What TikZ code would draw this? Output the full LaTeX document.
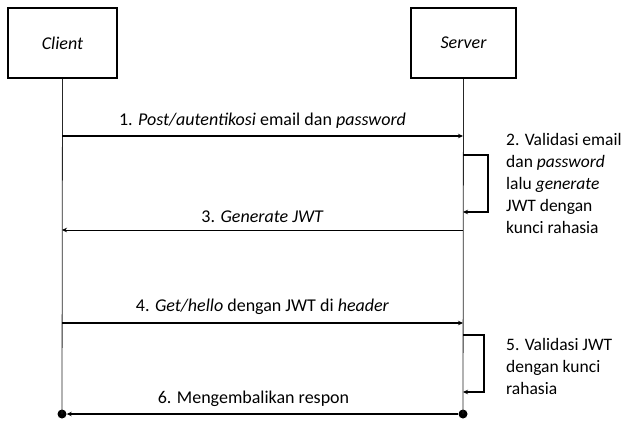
\documentclass[tikz,border=0pt]{standalone}
\usepackage{fontspec}
\setmainfont{Carlito}
\usetikzlibrary{arrows.meta}
\begin{document}
\begin{tikzpicture}[x=1pt,y=-1pt,
 actor/.style={draw, line width=2pt, minimum width=105pt, minimum height=70pt, inner sep=0pt, font=\itshape\fontsize{18}{22}\selectfont},
 life/.style={line width=0.8pt, draw=black!85},
 msg/.style={line width=1.2pt, -{Stealth[length=5pt,width=4.5pt]}},
 thinmsg/.style={line width=0.7pt, -{Stealth[length=5pt,width=4.5pt]}},
 selfmsg/.style={line width=1.6pt, -{Stealth[length=5pt,width=4.5pt]}},
 lbl/.style={font=\fontsize{18}{22}\selectfont, inner sep=0pt},
 note/.style={align=left, font=\fontsize{17.5}{22}\selectfont, inner sep=0pt},
 enddot/.style={circle, fill=black, inner sep=0pt, minimum size=9pt}]
\useasboundingbox (0,0) rectangle (628,421);
\node[actor, minimum width=109pt] (client) at (62.5,43) {Client};
\node[actor] (server) at (463.5,43) {Server};
\node[enddot] (cdot) at (62,414) {};
\node[enddot] (sdot) at (463,414) {};
\draw[life] (client.south) -- (cdot.center);
\draw[life] (server.south) -- (sdot.center);
% message 1
\coordinate (c1) at (62,136);
\coordinate (s1) at (463,136);
\draw[msg] (c1) -- (s1) node[lbl, midway, yshift=15pt] {1. \textit{Post/autentikosi} email dan \textit{password}};
% self message 2
\coordinate (s2a) at (463,155);
\coordinate (s2b) at (463,212);
\draw[selfmsg] (s2a) -- ++(25,0) |- (s2b);
\node[note, anchor=west] (n2) at (506,183) {2. Validasi email\\dan \textit{password}\\lalu \textit{generate}\\JWT dengan\\kunci rahasia};
% message 3
\coordinate (s3) at (463,230);
\coordinate (c3) at (62,230);
\draw[thinmsg] (s3) -- (c3) node[lbl, midway, yshift=13pt] {3. \textit{Generate JWT}};
% message 4
\coordinate (c4) at (62,323);
\coordinate (s4) at (463,323);
\draw[msg] (c4) -- (s4) node[lbl, midway, yshift=16pt] {4. \textit{Get/hello} dengan JWT di \textit{header}};
% self message 5
\coordinate (s5a) at (463,335);
\coordinate (s5b) at (463,392);
\draw[selfmsg] (s5a) -- ++(21,0) |- (s5b);
\node[note, anchor=west] (n5) at (506,366.5) {5. Validasi JWT\\dengan kunci\\rahasia};
% message 6
\draw[msg] (sdot) -- (cdot) node[lbl, midway, yshift=15pt, xshift=-9pt] {6. Mengembalikan respon};
\end{tikzpicture}
\end{document}
